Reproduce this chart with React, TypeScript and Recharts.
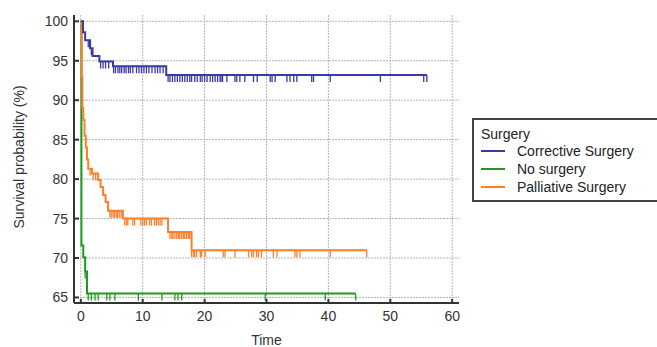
import React from 'react';
import { ComposedChart, Line, Scatter, XAxis, YAxis, CartesianGrid } from 'recharts';

// Kaplan-Meier step points: time (months) and survival (%)
const correctiveTimes = [0, 0.35, 0.7, 1.5, 1.9, 3.0, 5.2, 13.8, 55.9];
const correctiveSurv = [100, 98.6, 97.6, 96.6, 95.6, 94.9, 94.3, 93.2, 93.2];
const correctiveCensor = [1.2, 1.4, 1.7, 3.2, 3.6, 4.0, 4.5, 5.3, 5.6, 6.0, 6.3, 6.6, 7.0, 7.3, 7.7, 8.0, 8.4, 9.0, 9.4, 9.8, 10.2, 10.6, 11.0, 11.5, 12.0, 12.4, 12.8, 13.3, 14.1, 14.4, 14.8, 15.2, 15.6, 16.0, 16.4, 16.8, 17.2, 17.6, 17.9, 18.4, 18.8, 19.3, 19.6, 20.0, 20.4, 20.9, 21.3, 21.7, 22.1, 22.5, 22.65, 22.9, 23.6, 24.9, 25.2, 25.7, 26.5, 27.9, 28.5, 30.6, 30.9, 31.4, 33.3, 33.8, 34.4, 34.9, 37.3, 37.6, 40.3, 48.4, 55.4, 55.9];

const noSurgeryTimes = [0, 0.1, 0.4, 0.7, 1.0, 44.4];
const noSurgerySurv = [100, 71.6, 70.1, 68.3, 65.5, 65.5];
const noSurgeryCensor = [0.7, 1.2, 1.7, 2.3, 2.8, 4.2, 4.7, 5.5, 9.3, 13.1, 15.2, 15.7, 16.3, 29.8, 39.5, 44.4];

const palliativeTimes = [0, 0.15, 0.25, 0.4, 0.6, 0.8, 1.0, 1.2, 1.8, 2.8, 3.2, 3.6, 4.0, 4.4, 6.8, 14.1, 17.9, 46.2];
const palliativeSurv = [100, 93, 89, 87.5, 85.5, 84, 82.5, 81.3, 80.7, 79.9, 79.0, 78.0, 77.1, 76.0, 75.0, 73.3, 71.0, 71.0];
const palliativeCensor = [1.5, 2.0, 2.4, 4.7, 4.9, 5.2, 5.4, 5.7, 5.9, 6.2, 6.5, 7.1, 7.4, 7.6, 8.4, 8.7, 9.7, 10.0, 10.3, 10.6, 11.1, 11.4, 11.9, 12.2, 12.5, 12.8, 13.1, 14.4, 14.7, 14.9, 15.2, 15.5, 15.8, 16.0, 16.3, 16.6, 16.8, 17.1, 17.4, 17.6, 17.9, 18.2, 18.4, 18.7, 19.3, 19.5, 20.1, 23.0, 23.3, 24.9, 27.1, 27.6, 27.9, 28.4, 28.7, 29.2, 31.1, 31.7, 34.6, 34.9, 35.4, 40.3, 46.2];

const groupNames = ['Corrective Surgery', 'No surgery', 'Palliative Surgery'];
const legendTitle = 'Surgery';
const xTicks = [0, 10, 20, 30, 40, 50, 60];
const xMinorTicks = [5, 15, 25, 35, 45, 55];
const yTicks = [65, 70, 75, 80, 85, 90, 95, 100];

const COLORS = ['#3a3aa6', '#1f9a1f', '#ff7f27'];
const FONT = '"Liberation Sans", Arial, sans-serif';
const TEXT = '#333';

const toSteps = (ts: number[], ss: number[]) => ts.map((t, i) => ({ t, s: ss[i] }));
const levelAt = (ts: number[], ss: number[], t: number) => {
  let v = ss[0];
  for (let i = 0; i < ts.length; i++) if (ts[i] <= t) v = ss[i];
  return v;
};
const toCensor = (cs: number[], ts: number[], ss: number[]) => cs.map((t) => ({ t, s: levelAt(ts, ss, t) }));

const series = [
  { name: groupNames[1], steps: toSteps(noSurgeryTimes, noSurgerySurv), censor: toCensor(noSurgeryCensor, noSurgeryTimes, noSurgerySurv), color: COLORS[1] },
  { name: groupNames[2], steps: toSteps(palliativeTimes, palliativeSurv), censor: toCensor(palliativeCensor, palliativeTimes, palliativeSurv), color: COLORS[2] },
  { name: groupNames[0], steps: toSteps(correctiveTimes, correctiveSurv), censor: toCensor(correctiveCensor, correctiveTimes, correctiveSurv), color: COLORS[0] },
];

const XTick = (props: any) => {
  const { x, y, payload } = props;
  const ay = y - 8;
  return (
    <g>
      <line x1={x} x2={x} y1={ay} y2={ay - 4} stroke={TEXT} strokeWidth={2} />
      <text x={x} y={y} dy="0.71em" textAnchor="middle" fontSize={14} fontFamily={FONT} fill={TEXT}>
        {payload.value}
      </text>
    </g>
  );
};

const MinorTick = (props: any) => {
  const { x, y } = props;
  return <line x1={x} x2={x} y1={y - 1} y2={y - 3.5} stroke={TEXT} strokeWidth={1.5} />;
};

const YTick = (props: any) => {
  const { x, y, payload } = props;
  const ax = x + 7;
  return (
    <g>
      <line x1={ax} x2={ax + 4} y1={y} y2={y} stroke={TEXT} strokeWidth={2} />
      <text x={x} y={y} dy="0.355em" textAnchor="end" fontSize={14} fontFamily={FONT} fill={TEXT}>
        {payload.value}
      </text>
    </g>
  );
};

const censorShape = (color: string) => (props: any) => {
  const { cx, cy } = props;
  if (cx == null || cy == null) return <g />;
  return <line x1={cx} x2={cx} y1={cy} y2={cy + 7} stroke={color} strokeWidth={1.3} />;
};

export default function App() {
  return (
    <div style={{ position: 'absolute', left: 0, top: 0, width: 657, height: 347, background: '#fff' }}>
      <ComposedChart width={657} height={347} margin={{ top: 15, right: 198, bottom: 42, left: 73 }}>
        <CartesianGrid
          stroke="#b4b4b4"
          strokeDasharray="2 1"
          strokeWidth={1}
          horizontalValues={yTicks}
          verticalValues={xTicks}
        />
        <XAxis
          dataKey="t"
          type="number"
          domain={[-1.1, 61.1]}
          ticks={xTicks}
          height={1}
          tickSize={0}
          tickMargin={8}
          tick={XTick}
          tickLine={false}
          axisLine={{ stroke: TEXT, strokeWidth: 2 }}
          allowDataOverflow
          label={{ value: 'Time', position: 'bottom', offset: 31, fontSize: 14, fontFamily: FONT, fill: TEXT }}
        />
        <XAxis
          xAxisId="minor"
          type="number"
          domain={[-1.1, 61.1]}
          ticks={xMinorTicks}
          height={1}
          tickSize={0}
          tickMargin={0}
          tick={MinorTick}
          tickLine={false}
          axisLine={false}
          allowDataOverflow
        />
        <YAxis
          type="number"
          domain={[64.3, 100.8]}
          ticks={yTicks}
          width={1}
          tickSize={0}
          tickMargin={6}
          tick={YTick}
          tickLine={false}
          axisLine={{ stroke: TEXT, strokeWidth: 2 }}
          allowDataOverflow
          label={{
            content: () => (
              <text
                x={18.5}
                y={157}
                transform="rotate(-90 18.5 157)"
                textAnchor="middle"
                dominantBaseline="central"
                fontSize={14}
                fontFamily={FONT}
                fill={TEXT}
              >
                Survival probability (%)
              </text>
            ),
          }}
        />
        {series.map((s) => (
          <Line
            key={s.name}
            data={s.steps}
            dataKey="s"
            type="stepAfter"
            stroke={s.color}
            strokeWidth={2}
            dot={false}
            activeDot={false}
            isAnimationActive={false}
          />
        ))}
        {series.map((s) => (
          <Scatter
            key={s.name + '-c'}
            data={s.censor}
            dataKey="s"
            shape={censorShape(s.color)}
            isAnimationActive={false}
          />
        ))}
      </ComposedChart>
      <div
        style={{
          position: 'absolute',
          left: 472,
          top: 118,
          width: 183,
          height: 80,
          border: '2px solid #444',
          background: '#fff',
          fontFamily: FONT,
          fontSize: 14,
          color: '#222',
        }}
      >
        <div style={{ position: 'absolute', left: 7, top: 6, lineHeight: '16px', whiteSpace: 'nowrap' }}>{legendTitle}</div>
        {[0, 1, 2].map((i) => (
          <React.Fragment key={i}>
            <div
              style={{
                position: 'absolute',
                left: 7,
                top: 31 + i * 18 - 1,
                width: 24,
                height: 2,
                background: COLORS[i],
              }}
            />
            <div style={{ position: 'absolute', left: 43, top: 23 + i * 18, lineHeight: '16px', whiteSpace: 'nowrap' }}>
              {groupNames[i]}
            </div>
          </React.Fragment>
        ))}
      </div>
    </div>
  );
}
